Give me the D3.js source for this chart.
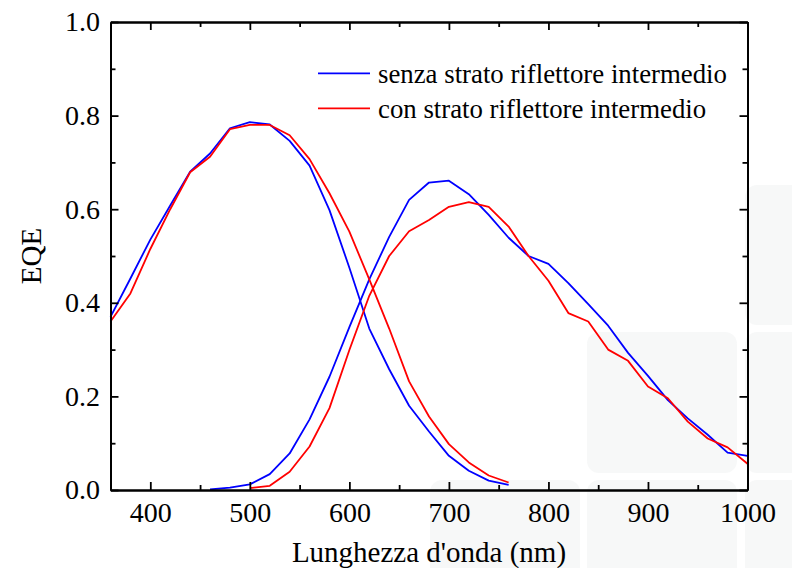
<!DOCTYPE html>
<html>
<head>
<meta charset="utf-8">
<script src="https://cdn.jsdelivr.net/npm/d3@7"></script>
<style>
  html, body { margin: 0; padding: 0; background: #ffffff; }
  svg { display: block; }
  text { font-family: "Liberation Serif", "Times New Roman", serif; fill: #000; }
</style>
</head>
<body>
<svg id="chart" width="792" height="568"></svg>
<script>
// ---- data ----
const wlShort = [360,380,400,420,440,460,480,500,520,540,560,580,600,620,640,660,680,700,720,740,760];
const senzaShort = [0.37,0.452,0.535,0.608,0.68,0.719,0.773,0.786,0.781,0.746,0.693,0.598,0.475,0.345,0.258,0.18,0.125,0.073,0.041,0.020,0.011];
const conShort   = [0.36,0.42,0.515,0.60,0.679,0.712,0.771,0.78,0.78,0.758,0.707,0.634,0.552,0.45,0.345,0.232,0.157,0.098,0.059,0.031,0.016];

const wlLongSenza = [460,480,500,520,540,560,580,600,620,640,660,680,700,720,740,760,780,800,820,840,860,880,900,920,940,960,980,1000];
const senzaLong = [0.0015,0.005,0.012,0.034,0.078,0.151,0.242,0.348,0.45,0.541,0.62,0.657,0.661,0.632,0.588,0.539,0.50,0.483,0.442,0.397,0.351,0.293,0.244,0.192,0.153,0.118,0.080,0.073];

const wlLongCon = [500,520,540,560,580,600,620,640,660,680,700,720,740,760,780,800,820,840,860,880,900,920,940,960,980,1000];
const conLong = [0.004,0.009,0.039,0.093,0.175,0.299,0.415,0.50,0.553,0.577,0.605,0.615,0.605,0.563,0.50,0.447,0.378,0.36,0.30,0.276,0.221,0.196,0.146,0.110,0.091,0.056];

const xMajorTicks = [400,500,600,700,800,900,1000];
const xMinorTicks = [450,550,650,750,850,950];
const yMajorTicks = [0,0.2,0.4,0.6,0.8,1.0];
const yMinorTicks = [0.1,0.3,0.5,0.7,0.9];

const seriesNames = ["senza strato riflettore intermedio", "con strato riflettore intermedio"];
const seriesColors = ["#0000ff", "#ff0000"];
const xTitle = "Lunghezza d'onda (nm)";
const yTitle = "EQE";

// ---- layout ----
const svg = d3.select("#chart");
const L = 110.5, R = 747.5, T = 22, B = 490;
const x = d3.scaleLinear().domain([360, 1000]).range([L, R]);
const y = d3.scaleLinear().domain([0, 1]).range([B, T]);

// very faint background watermark tiles
const tiles = [
  [587, 332, 150, 141], [745, 332, 60, 141], [745, 185, 60, 140],
  [587, 480, 150, 100], [745, 480, 60, 100], [430, 480, 150, 100]
];
svg.append("g").selectAll("rect").data(tiles).join("rect")
  .attr("x", d => d[0]).attr("y", d => d[1])
  .attr("width", d => d[2]).attr("height", d => d[3])
  .attr("rx", 12).attr("fill", "#eef0f0").attr("opacity", 0.45);

// ---- lines ----
const line = d3.line().x(d => x(d[0])).y(d => y(d[1]));
const curves = [
  { wl: wlShort, v: senzaShort, c: seriesColors[0] },
  { wl: wlLongSenza, v: senzaLong, c: seriesColors[0] },
  { wl: wlShort, v: conShort, c: seriesColors[1] },
  { wl: wlLongCon, v: conLong, c: seriesColors[1] }
];
svg.append("g").selectAll("path").data(curves).join("path")
  .attr("d", d => line(d.wl.map((w, i) => [w, d.v[i]])))
  .attr("fill", "none").attr("stroke", d => d.c)
  .attr("stroke-width", 1.8).attr("stroke-linejoin", "round");

// ---- axes ----
function style(g) {
  g.selectAll("path.domain").attr("stroke", "#000").attr("stroke-width", 2);
  g.selectAll(".tick line").attr("stroke", "#000").attr("stroke-width", 1.8);
  g.selectAll(".tick text").attr("font-size", 28).attr("fill", "#000");
}
// bottom
svg.append("g").attr("transform", `translate(0,${B})`)
  .call(d3.axisBottom(x).tickValues(xMinorTicks).tickSize(-5).tickSizeOuter(0).tickFormat(""))
  .call(style);
svg.append("g").attr("transform", `translate(0,${B})`)
  .call(d3.axisBottom(x).tickValues(xMajorTicks).tickSize(-8).tickSizeOuter(0).tickPadding(12).tickFormat(d3.format("d")))
  .call(style);
// top
svg.append("g").attr("transform", `translate(0,${T})`)
  .call(d3.axisTop(x).tickValues(xMinorTicks).tickSize(-5).tickSizeOuter(0).tickFormat(""))
  .call(style);
svg.append("g").attr("transform", `translate(0,${T})`)
  .call(d3.axisTop(x).tickValues(xMajorTicks).tickSize(-8).tickSizeOuter(0).tickFormat(""))
  .call(style);
// left
svg.append("g").attr("transform", `translate(${L},0)`)
  .call(d3.axisLeft(y).tickValues(yMinorTicks).tickSize(-5).tickSizeOuter(0).tickFormat(""))
  .call(style);
svg.append("g").attr("transform", `translate(${L},0)`)
  .call(d3.axisLeft(y).tickValues(yMajorTicks).tickSize(-8).tickSizeOuter(0).tickPadding(10.5).tickFormat(d3.format(".1f")))
  .call(style);
// right
svg.append("g").attr("transform", `translate(${R},0)`)
  .call(d3.axisRight(y).tickValues(yMinorTicks).tickSize(-5).tickSizeOuter(0).tickFormat(""))
  .call(style);
svg.append("g").attr("transform", `translate(${R},0)`)
  .call(d3.axisRight(y).tickValues(yMajorTicks).tickSize(-8).tickSizeOuter(0).tickFormat(""))
  .call(style);

// ---- titles ----
svg.append("text").attr("x", (L + R) / 2).attr("y", 562)
  .attr("text-anchor", "middle").attr("font-size", 29).text(xTitle);
svg.append("text").attr("transform", `translate(41,${(T + B) / 2}) rotate(-90)`)
  .attr("text-anchor", "middle").attr("font-size", 29).text(yTitle);

// ---- legend ----
const legend = svg.append("g");
const legY = [73.3, 108.3];
seriesNames.forEach((name, i) => {
  legend.append("line").attr("x1", 318).attr("x2", 370)
    .attr("y1", legY[i]).attr("y2", legY[i])
    .attr("stroke", seriesColors[i]).attr("stroke-width", 1.8);
  legend.append("text").attr("x", 378).attr("y", legY[i] + 9.7)
    .attr("font-size", 26.8).text(name);
});
</script>
</body>
</html>
